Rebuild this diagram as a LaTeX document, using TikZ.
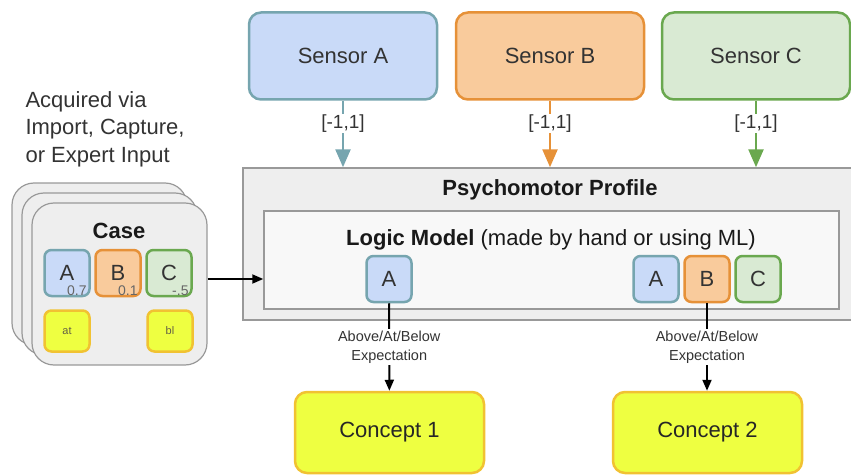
\documentclass[tikz,border=0pt]{standalone}
\usepackage{fontspec}
\setmainfont{Liberation Sans}
\usepackage{tikz}
\usetikzlibrary{arrows.meta}
\definecolor{blueFill}{HTML}{C9DAF8}
\definecolor{blueDraw}{HTML}{76A5AF}
\definecolor{orangeFill}{HTML}{F9CB9C}
\definecolor{orangeDraw}{HTML}{E69138}
\definecolor{greenFill}{HTML}{D9EAD3}
\definecolor{greenDraw}{HTML}{6AA84F}
\definecolor{yellowFill}{HTML}{EEFF41}
\definecolor{yellowDraw}{HTML}{F1C232}
\definecolor{grayFill}{HTML}{EEEEEE}
\definecolor{grayDraw}{HTML}{999999}
\definecolor{paleFill}{HTML}{F8F8F8}
\definecolor{textGray}{HTML}{333333}
\newcommand{\sizeBig}{\fontsize{22}{26}\selectfont}
\newcommand{\sizeMid}{\fontsize{19}{22}\selectfont}
\newcommand{\sizeSmall}{\fontsize{14.5}{19.5}\selectfont}

\begin{document}
\begin{tikzpicture}[x=1pt,y=-1pt,
    every node/.style={text=textGray},
    sensorbox/.style={rounded corners=12pt, line width=2.5pt, minimum width=188pt, minimum height=87pt, font=\sizeBig},
    letterbox/.style={rounded corners=7pt, line width=2.5pt, minimum width=45pt, minimum height=46pt, inner sep=0pt, font=\sizeBig},
    conceptbox/.style={rounded corners=12pt, line width=2.5pt, minimum width=189pt, minimum height=81pt, fill=yellowFill, draw=yellowDraw, text=black!85, font=\sizeBig},
    tagbox/.style={rounded corners=7pt, line width=2.5pt, minimum width=45pt, minimum height=41pt, inner sep=0pt, fill=yellowFill, draw=yellowDraw, text=black!70!yellow, font=\fontsize{11}{13}\selectfont},
    cardbox/.style={rounded corners=22pt, line width=1.2pt, draw=grayDraw, fill=grayFill, minimum width=175pt, minimum height=162pt},
    blueBox/.style={fill=blueFill, draw=blueDraw},
    orangeBox/.style={fill=orangeFill, draw=orangeDraw},
    greenBox/.style={fill=greenFill, draw=greenDraw},
    weightlabel/.style={anchor=south east, inner sep=1pt, xshift=-3pt, text=black!60, font=\fontsize{14}{15}\selectfont},
    rangelabel/.style={fill=white, inner sep=1pt, font=\sizeMid},
    feedarrow/.style={line width=2.5pt, -{Triangle[width=15pt,length=18pt]}},
    flowarrow/.style={line width=2pt, draw=black, -{Triangle[width=9pt,length=11pt]}}]
  \clip (0,0) rectangle (851,476);

  \node[anchor=west, align=left, font=\fontsize{22}{27.5}\selectfont] (Acquired) at (22,129) {Acquired via\\Import, Capture,\\or Expert Input};

  \node[sensorbox, blueBox] (SensorA) at (343,56) {Sensor A};
  \node[sensorbox, orangeBox] (SensorB) at (550,56) {Sensor B};
  \node[sensorbox, greenBox] (SensorC) at (756,56) {Sensor C};

  \node[draw=grayDraw, fill=grayFill, line width=1.5pt, minimum width=613pt, minimum height=152pt] (Profile) at (549.5,244) {};
  \node[font=\sizeBig\bfseries, text=black!90] (ProfileTitle) at (550,190) {Psychomotor Profile};
  \node[draw=grayDraw, fill=paleFill, line width=1.5pt, minimum width=575pt, minimum height=98pt] (Logic) at (551.5,260) {};
  \node[font=\sizeBig, text=black!90] (LogicTitle) at (551,240) {\textbf{Logic Model} (made by hand or using ML)};

  \node[letterbox, blueBox] (LogicA) at (389,279) {A};
  \node[letterbox, blueBox] (LogicRA) at (656,279) {A};
  \node[letterbox, orangeBox] (LogicRB) at (707,279) {B};
  \node[letterbox, greenBox] (LogicRC) at (758,279) {C};

  \node[cardbox] (CaseBack) at (99.5,264) {};
  \node[cardbox] (CaseMid) at (109.5,274) {};
  \node[cardbox] (CaseFront) at (119.5,284) {};
  \node[font=\sizeBig\bfseries, text=black!90] (CaseTitle) at (119,231) {Case};
  \node[letterbox, blueBox] (CaseA) at (67,273) {A};
  \node[letterbox, orangeBox] (CaseB) at (118,273) {B};
  \node[letterbox, greenBox] (CaseC) at (169,273) {C};
  \node[weightlabel] at (CaseA.south east) {0.7};
  \node[weightlabel] at (CaseB.south east) {0.1};
  \node[weightlabel] at (CaseC.south east) {-.5};
  \node[tagbox] (TagAt) at (67,331) {at};
  \node[tagbox] (TagBl) at (170,331) {bl};

  \node[conceptbox] (ConceptOne) at (389.5,432.5) {Concept 1};
  \node[conceptbox] (ConceptTwo) at (707.5,432.5) {Concept 2};

  \draw[feedarrow, draw=blueDraw] (SensorA) -- (SensorA |- Profile.north) node[rangelabel, pos=0.34] {[-1,1]};
  \draw[feedarrow, draw=orangeDraw] (SensorB) -- (SensorB |- Profile.north) node[rangelabel, pos=0.34] {[-1,1]};
  \draw[feedarrow, draw=greenDraw] (SensorC) -- (SensorC |- Profile.north) node[rangelabel, pos=0.34] {[-1,1]};

  \draw[flowarrow] (CaseFront.east |- LogicA) -- (Logic.west |- LogicA);
  \draw[flowarrow] (LogicA) -- (ConceptOne) node[midway, fill=white, align=center, inner sep=1pt, font=\sizeSmall] {Above/At/Below\\Expectation};
  \draw[flowarrow] (LogicRB) -- (LogicRB |- ConceptTwo.north) node[midway, fill=white, align=center, inner sep=1pt, font=\sizeSmall] {Above/At/Below\\Expectation};
\end{tikzpicture}
\end{document}
